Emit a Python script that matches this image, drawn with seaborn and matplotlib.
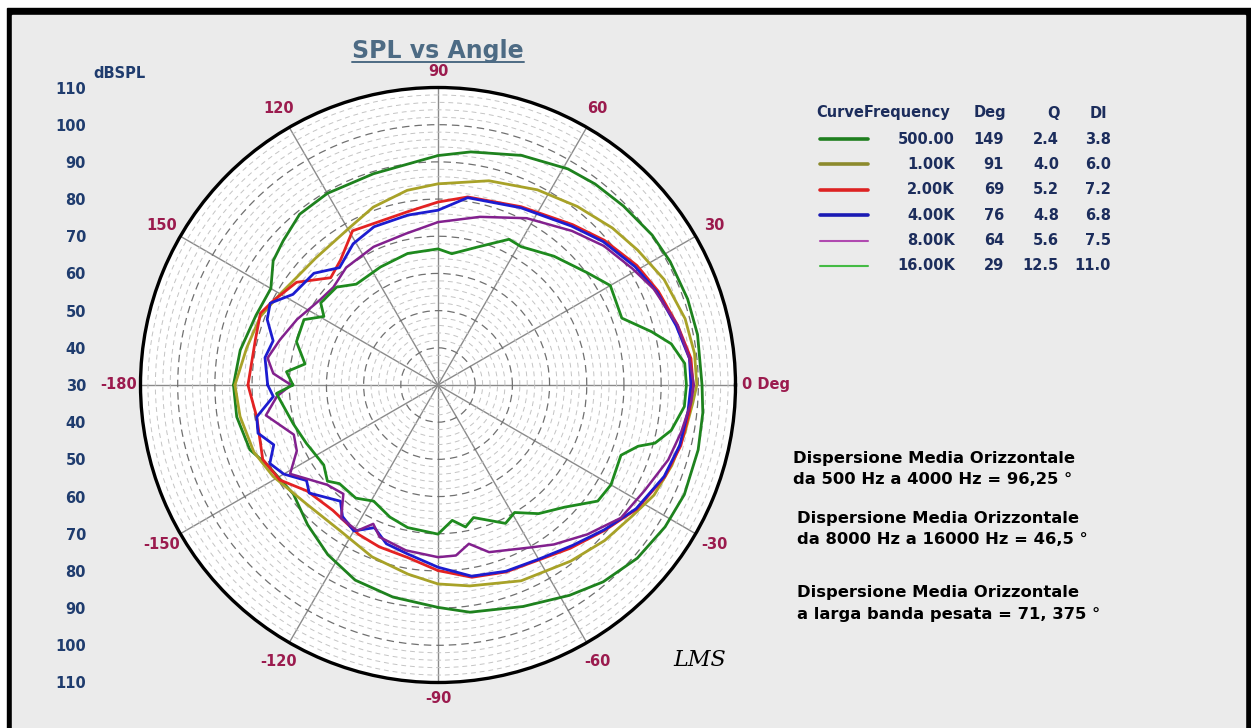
import numpy as np
import pandas as pd
import matplotlib
matplotlib.use("Agg")
import matplotlib.pyplot as plt
from matplotlib.patches import Rectangle
from matplotlib.lines import Line2D
from matplotlib.ticker import MultipleLocator
import seaborn as sns

sns.set_style("white")
plt.rcParams['font.family'] = ['DejaVu Sans']

# ── Data (angle in degrees, SPL in dB) ────────────────────────
ang_500 = [-180, -171, -161, -155, -143, -133, -123, -113, -102, -90, -82, -69, -58, -50, -41, -32, -24, -14, -6, 0,
           11, 19, 28, 35, 44, 52, 59, 70, 82, 90, 107, 120, 129, 137, 143, 150, 159, 170, 180]
spl_500 = [85.0, 84.8, 83.5, 80.7, 78.7, 81.4, 84.4, 87.0, 88.3, 89.8, 91.7, 93.8, 96.7, 99.1, 101.0, 102.0, 102.5,
           102.1, 101.6, 101.0, 101.1, 101.0, 100.7, 100.3, 99.3, 98.6, 97.8, 95.7, 93.3, 91.7, 89.4, 89.5, 89.1, 86.9,
           85.5, 81.9, 82.4, 84.0, 85.0]

ang_1k = [-180, -171, -160, -151, -138, -124, -111, -99, -90, -81, -67, -53, -43, -34, -27, -19, -11, -4, 0, 7, 15,
          25, 34, 42, 52, 63, 76, 90, 99, 110, 119, 134, 143, 150, 159, 169, 180]
spl_1k = [84.6, 83.9, 82.7, 80.7, 77.7, 77.2, 79.5, 81.5, 83.5, 84.7, 87.2, 89.3, 91.3, 93.0, 95.2, 96.5, 97.6, 98.7,
          99.6, 99.5, 98.8, 97.1, 94.8, 93.1, 90.9, 88.9, 86.6, 84.1, 83.0, 80.9, 78.6, 77.4, 77.8, 79.0, 81.2, 82.4,
          84.6]

ang_2k = [-180, -170, -157, -149, -141, -130, -118, -110, -100, -90, -80, -70, -60, -51, -41, -32, -22, -14, -6, 0,
          6, 14, 23, 31, 41, 50, 65, 81, 90, 100, 119, 128, 135, 144, 153, 158, 166, 180]
spl_2k = [81.1, 79.5, 81.2, 79.6, 75.3, 74.0, 75.5, 76.3, 77.1, 79.9, 82.5, 83.5, 84.3, 86.5, 89.5, 93.0, 95.8, 97.3,
          98.0, 98.6, 98.4, 96.4, 94.4, 92.4, 89.3, 86.3, 82.9, 81.2, 79.2, 77.3, 77.4, 72.6, 70.8, 77.0, 79.8, 81.5,
          80.6, 81.1]

ang_4k = [-180, -176, -170, -165, -160, -155, -150, -144, -140, -130, -126, -120, -114, -108, -100, -90, -80, -70,
          -60, -50, -41, -32, -22, -14, -6, 0, 6, 14, 23, 31, 41, 50, 65, 81, 90, 100, 112, 121, 130, 138, 148, 154,
          159, 165, 171, 180]
spl_4k = [75.8, 74.4, 79.5, 80.1, 77.0, 79.9, 77.9, 73.7, 75.2, 70.8, 73.7, 75.3, 72.0, 74.9, 76.2, 79.0, 82.2, 83.3,
          84.1, 86.3, 89.3, 92.8, 95.6, 97.0, 97.6, 98.0, 98.0, 96.0, 94.0, 91.8, 88.8, 85.8, 82.6, 81.0, 77.0, 76.4,
          75.9, 74.3, 71.2, 74.9, 76.0, 80.2, 79.2, 75.9, 77.1, 75.8]

ang_8k = [-180, -176, -170, -161, -155, -149, -138, -131, -126, -119, -115, -111, -101, -90, -84, -79, -73, -60, -54,
          -45, -36, -27, -18, -11, -4, 0, 6, 14, 24, 31, 40, 49, 62, 76, 90, 102, 115, 128, 137, 144, 155, 164, 171,
          176, 180]
spl_8k = [69.5, 73.4, 77.0, 71.0, 71.9, 76.4, 70.1, 68.8, 74.3, 74.8, 71.2, 73.8, 75.3, 76.3, 76.1, 73.5, 77.0, 80.4,
          83.0, 86.8, 90.8, 92.4, 95.1, 96.6, 98.2, 98.8, 98.0, 96.4, 93.5, 90.9, 88.2, 84.9, 80.8, 76.6, 73.8, 71.6,
          71.0, 70.1, 68.5, 69.1, 71.8, 74.2, 76.4, 74.4, 69.5]

ang_16k = [-180, -177, -165, -156, -145, -139, -135, -126, -119, -110, -102, -90, -84, -79, -75, -64, -59, -52, -44,
           -36, -30, -21, -17, -15, -11, -5, 0, 5, 10, 14, 20, 30, 37, 48, 59, 64, 74, 84, 90, 103, 116, 129, 136, 145,
           149, 154, 163, 171, 175, 180]
spl_16k = [69.0, 73.5, 70.3, 68.7, 67.5, 69.4, 67.5, 67.6, 65.7, 67.8, 69.2, 70.1, 66.6, 68.9, 66.9, 71.4, 70.0, 73.9,
           77.3, 83.1, 83.7, 82.7, 86.3, 90.4, 93.9, 96.5, 96.8, 96.6, 93.7, 89.2, 82.6, 83.5, 80.2, 76.6, 73.4, 73.6,
           68.6, 65.5, 66.6, 66.3, 65.3, 64.9, 67.9, 68.5, 65.8, 70.1, 69.8, 66.2, 70.9, 69.0]

# legend table
leg_freq = ["500.00", "1.00K", "2.00K", "4.00K", "8.00K", "16.00K"]
leg_deg = ["149", "91", "69", "76", "64", "29"]
leg_q = ["2.4", "4.0", "5.2", "4.8", "5.6", "12.5"]
leg_di = ["3.8", "6.0", "7.2", "6.8", "7.5", "11.0"]

# radial scale
r_min, r_max = 30, 110
spl_tick_labels = [110, 100, 90, 80, 70, 60, 50, 40, 30, 40, 50, 60, 70, 80, 90, 100, 110]
theta_lab_deg = [0, 30, 60, 90, 120, 150, 180, -150, -120, -90, -60, -30]
theta_lab_txt = ["0 Deg", "30", "60", "90", "120", "150", "-180", "-150", "-120", "-90", "-60", "-30"]

notes = ["Dispersione Media Orizzontale", "da 500 Hz a 4000 Hz = 96,25 °",
         "Dispersione Media Orizzontale", "da 8000 Hz a 16000 Hz = 46,5 °",
         "Dispersione Media Orizzontale", "a larga banda pesata = 71, 375 °"]

curves = [("500.00", ang_500, spl_500, "#1e821e", 2.0),
          ("1.00K", ang_1k, spl_1k, "#a8a228", 2.0),
          ("2.00K", ang_2k, spl_2k, "#e32222", 2.0),
          ("4.00K", ang_4k, spl_4k, "#1c1cd0", 2.0),
          ("8.00K", ang_8k, spl_8k, "#82208e", 1.8),
          ("16.00K", ang_16k, spl_16k, "#1e8a1e", 2.0)]
leg_colors = ["#1e7e1e", "#8c8a2c", "#dd2222", "#1a1ab4", "#b04ab0", "#44bb44"]
leg_widths = [2.6, 2.6, 2.6, 2.6, 1.5, 1.5]

# ── Figure ───────────────────────────────────────────────────
W, H = 1251, 728
fig = plt.figure(figsize=(W / 100, H / 100), dpi=100, facecolor="white")


def fx(px):
    return px / W


def fy(py):
    return 1 - py / H


fig.add_artist(Rectangle((fx(7), 0), 1 - fx(7), fy(8), color="black",
                         transform=fig.transFigure, zorder=-10))
fig.add_artist(Rectangle((fx(12), 0), fx(1245) - fx(12), fy(15), color="#ebebeb",
                         transform=fig.transFigure, zorder=-9))

cx, cy, R = 438, 385, 297.5
rect = [fx(cx - R), fy(cy + R), 2 * R / W, 2 * R / H]
ax = fig.add_axes(rect, projection="polar")
ax.set_facecolor("white")

for name, a, s, col, lw in curves:
    d = pd.DataFrame({"theta": np.deg2rad(a), "spl": s})
    sns.lineplot(data=d, x="theta", y="spl", sort=False, estimator=None,
                 color=col, lw=lw, ax=ax, legend=False)

ax.set_ylim(r_min, r_max)
ax.set_thetagrids(np.arange(0, 360, 30), labels=[""] * 12)
ax.xaxis.grid(True, color="#8a8a8a", lw=1.0, ls="-")
ax.set_yticks(np.arange(40, 111, 10))
ax.set_yticklabels([])
ax.yaxis.set_minor_locator(MultipleLocator(2))
ax.yaxis.grid(True, which="major", color="#707070", lw=0.9, ls=(0, (6, 4)))
ax.yaxis.grid(True, which="minor", color="#c4c4c4", lw=0.7, ls=(0, (5, 4)))
ax.tick_params(axis="both", which="both", length=0)
ax.spines["polar"].set_linewidth(2.4)
ax.spines["polar"].set_color("black")
ax.set_xlabel("")
ax.set_ylabel("")

px_per_db = R / (r_max - r_min)
for d, t in zip(theta_lab_deg, theta_lab_txt):
    ha, r = "center", 115.8
    if d == 0:
        ha, r = "left", r_min + (742 - cx) / px_per_db
    elif d == 180:
        ha, r = "right", r_min + (cx - 137) / px_per_db
    elif abs(d) == 90:
        r = 114.2
    ax.text(np.deg2rad(d), r, t, ha=ha, va="center", fontsize=10.5,
            fontweight="bold", color="#9b1b4e", clip_on=False)

# left SPL scale
lax = fig.add_axes(rect)
lax.patch.set_visible(False)
for sp in lax.spines.values():
    sp.set_visible(False)
lax.set_xticks([])
lax.set_ylim(-(r_max - r_min), r_max - r_min)
half = len(spl_tick_labels) // 2
pos = [(v - r_min) if i <= half else -(v - r_min) for i, v in enumerate(spl_tick_labels)]
lax.set_yticks(pos)
lax.set_yticklabels([str(v) for v in spl_tick_labels])
lax.tick_params(axis="y", length=0, pad=(cx - R - 86) * 0.72, labelsize=10.5,
                labelcolor="#1f3c6e")
for t in lax.get_yticklabels():
    t.set_fontweight("bold")
fig.text(fx(93), fy(73), "dBSPL", ha="left", va="center", fontsize=10.5,
         fontweight="bold", color="#1f3c6e")

# title with underline
title = fig.text(fx(cx), fy(51), "SPL vs Angle", ha="center", va="center",
                 fontsize=17, fontweight="bold", color="#4d6b84")
fig.canvas.draw()
bb = title.get_window_extent().transformed(fig.transFigure.inverted())
fig.add_artist(Line2D([bb.x0, bb.x1], [fy(62), fy(62)], color="#4d6b84", lw=1.4,
                      transform=fig.transFigure))

# legend table
navy = "#1c2d5c"
fs_leg = 10.5
fig.text(fx(816), fy(113), "CurveFrequency", ha="left", va="center", fontsize=fs_leg,
         fontweight="bold", color=navy)
fig.text(fx(1006), fy(113), "Deg", ha="right", va="center", fontsize=fs_leg, fontweight="bold", color=navy)
fig.text(fx(1053), fy(113), "Q", ha="center", va="center", fontsize=fs_leg, fontweight="bold", color=navy)
fig.text(fx(1098), fy(113), "DI", ha="center", va="center", fontsize=fs_leg, fontweight="bold", color=navy)
for i in range(len(leg_freq)):
    y = fy(139 + 25.4 * i)
    fig.add_artist(Line2D([fx(820), fx(868)], [y, y], color=leg_colors[i], lw=leg_widths[i],
                          transform=fig.transFigure))
    for txt, xr in zip([leg_freq[i], leg_deg[i], leg_q[i], leg_di[i]], [955, 1004, 1059, 1111]):
        fig.text(fx(xr), y, txt, ha="right", va="center", fontsize=fs_leg,
                 fontweight="bold", color=navy)

# notes
note_y = [458, 480, 518, 540, 593, 615]
note_x = [793, 793, 797, 797, 797, 797]
for txt, x, y in zip(notes, note_x, note_y):
    fig.text(fx(x), fy(y), txt, ha="left", va="center", fontsize=11.8,
             fontweight="bold", color="black")

fig.text(fx(700), fy(660), "LMS", ha="center", va="center", fontsize=16,
         style="italic", family="DejaVu Serif", color="black")

fig.savefig("out.png", dpi=100, facecolor=fig.get_facecolor())
